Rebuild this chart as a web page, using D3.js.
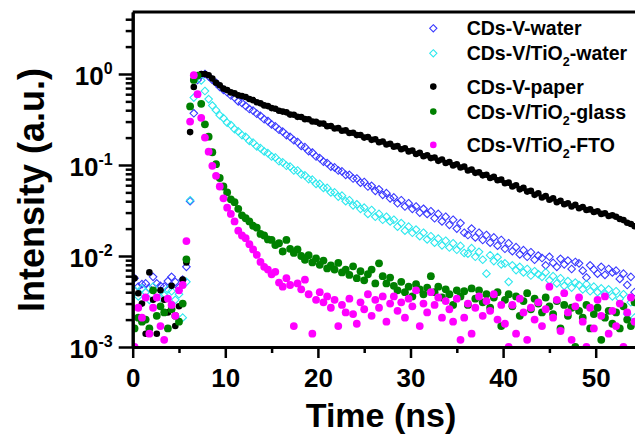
<!DOCTYPE html>
<html>
<head>
<meta charset="utf-8">
<script src="https://cdn.jsdelivr.net/npm/d3@7"></script>
<style>
  body { margin: 0; background: #fff; }
  svg { display: block; font-family: "Liberation Sans", Arial, sans-serif; font-weight: bold; }
</style>
</head>
<body>
<div class="canvas"></div>
<script>
// TCSPC channels (ns)
const timeNs = [
  0.2, 0.6, 1.0, 1.4, 1.8, 2.2, 2.6, 3.0, 3.4, 3.8,
  4.2, 4.6, 5.0, 5.4, 5.8, 6.2, 6.6, 7.0, 7.4, 7.8,
  8.2, 8.6, 9.0, 9.4, 9.8, 10.2, 10.6, 11.0, 11.4, 11.8,
  12.2, 12.6, 13.0, 13.4, 13.8, 14.2, 14.6, 15.0, 15.4, 15.8,
  16.2, 16.6, 17.0, 17.4, 17.8, 18.2, 18.6, 19.0, 19.4, 19.8,
  20.2, 20.6, 21.0, 21.4, 21.8, 22.2, 22.6, 23.0, 23.4, 23.8,
  24.2, 24.6, 25.0, 25.4, 25.8, 26.2, 26.6, 27.0, 27.4, 27.8,
  28.2, 28.6, 29.0, 29.4, 29.8, 30.2, 30.6, 31.0, 31.4, 31.8,
  32.2, 32.6, 33.0, 33.4, 33.8, 34.2, 34.6, 35.0, 35.4, 35.8,
  36.2, 36.6, 37.0, 37.4, 37.8, 38.2, 38.6, 39.0, 39.4, 39.8,
  40.2, 40.6, 41.0, 41.4, 41.8, 42.2, 42.6, 43.0, 43.4, 43.8,
  44.2, 44.6, 45.0, 45.4, 45.8, 46.2, 46.6, 47.0, 47.4, 47.8,
  48.2, 48.6, 49.0, 49.4, 49.8, 50.2, 50.6, 51.0, 51.4, 51.8,
  52.2, 52.6, 53.0, 53.4, 53.8, 54.2
]

// CDs-V-water
const vWater = [
  0.0057, 0.0046, 0.0049, 0.0050, 0.0044, 0.0059, 0.0050, 0.0047, 0.0046, 0.0053,
  0.0059, 0.0052, 0.0045, 0.0055, 0.0076, 0.040, 0.37, 0.86, 0.97, 1.0,
  0.94, 0.86, 0.80, 0.72, 0.67, 0.63, 0.58, 0.55, 0.50, 0.48,
  0.445, 0.412, 0.396, 0.366, 0.347, 0.318, 0.304, 0.279, 0.266, 0.244,
  0.233, 0.213, 0.204, 0.187, 0.179, 0.162, 0.157, 0.142, 0.137, 0.124,
  0.119, 0.109, 0.105, 0.096, 0.094, 0.087, 0.085, 0.078, 0.078, 0.071,
  0.071, 0.064, 0.065, 0.058, 0.059, 0.052, 0.054, 0.047, 0.049, 0.043,
  0.044, 0.038, 0.041, 0.035, 0.038, 0.033, 0.035, 0.030, 0.033, 0.029,
  0.031, 0.026, 0.029, 0.024, 0.027, 0.022, 0.025, 0.020, 0.023, 0.018,
  0.017, 0.020, 0.016, 0.018, 0.015, 0.017, 0.014, 0.016, 0.013, 0.015,
  0.0120, 0.0138, 0.0113, 0.0125, 0.0104, 0.0116, 0.0098, 0.0110, 0.0091, 0.0101,
  0.0095, 0.0079, 0.0098, 0.0084, 0.0076, 0.0093, 0.0081, 0.0089, 0.0072, 0.0086,
  0.0083, 0.0069, 0.0058, 0.0079, 0.0071, 0.0064, 0.0076, 0.0062, 0.0072, 0.0066,
  0.0069, 0.0056, 0.0064, 0.0048, 0.0059, 0.0040
]

// CDs-V/TiO2-water
const tioWater = [
  0.0042, 0.0036, 0.0044, 0.0040, 0.0033, 0.0046, 0.0039, 0.0035, 0.0037, 0.0043,
  0.0041, 0.0033, 0.0038, 0.0021, 0.0052, 0.041, 0.55, 0.93, 0.85, 0.65,
  0.53, 0.45, 0.40, 0.352, 0.327, 0.292, 0.275, 0.248, 0.234, 0.213,
  0.204, 0.184, 0.176, 0.160, 0.153, 0.141, 0.135, 0.124, 0.121, 0.110,
  0.107, 0.098, 0.096, 0.087, 0.087, 0.079, 0.077, 0.070, 0.069, 0.062,
  0.062, 0.056, 0.056, 0.050, 0.050, 0.045, 0.046, 0.040, 0.041, 0.036,
  0.037, 0.033, 0.034, 0.029, 0.032, 0.027, 0.029, 0.025, 0.027, 0.024,
  0.025, 0.021, 0.023, 0.019, 0.021, 0.018, 0.0195, 0.0165, 0.018, 0.0152,
  0.0165, 0.0140, 0.0155, 0.0131, 0.0147, 0.0124, 0.0138, 0.0117, 0.0129, 0.0108,
  0.0106, 0.0122, 0.0098, 0.0111, 0.0091, 0.0064, 0.0102, 0.0088, 0.0097, 0.0081,
  0.0083, 0.0052, 0.0079, 0.0070, 0.0076, 0.0066, 0.0072, 0.0061, 0.0068, 0.0063,
  0.0059, 0.0066, 0.0054, 0.0060, 0.0050, 0.0057, 0.0047, 0.0053, 0.0045, 0.0051,
  0.0048, 0.0043, 0.0049, 0.0041, 0.0046, 0.0040, 0.0044, 0.0038, 0.0043, 0.0036,
  0.0041, 0.0034, 0.0038, 0.0023, 0.0031, 0.0021
]

// CDs-V-paper
const vPaper = [
  0.0057, 0.0039, 0.0030, 0.0014, 0.0066, 0.0033, 0.0014, 0.0042, 0.0033, 0.0024,
  0.0047, 0.0017, 0.0028, 0.0055, 0.0085, 0.23, 0.72, 0.96, 1.0, 1.0,
  0.97, 0.89, 0.80, 0.75, 0.69, 0.665, 0.628, 0.612, 0.585, 0.572,
  0.559, 0.531, 0.516, 0.490, 0.476, 0.452, 0.444, 0.422, 0.415, 0.395,
  0.386, 0.379, 0.358, 0.357, 0.338, 0.337, 0.319, 0.318, 0.301, 0.299,
  0.285, 0.285, 0.267, 0.268, 0.252, 0.254, 0.238, 0.240, 0.225, 0.226,
  0.213, 0.214, 0.200, 0.203, 0.189, 0.192, 0.178, 0.181, 0.168, 0.171,
  0.159, 0.161, 0.149, 0.153, 0.141, 0.144, 0.132, 0.136, 0.125, 0.128,
  0.119, 0.121, 0.111, 0.115, 0.105, 0.108, 0.099, 0.102, 0.094, 0.096,
  0.087, 0.089, 0.082, 0.083, 0.077, 0.078, 0.072, 0.074, 0.068, 0.069,
  0.063, 0.064, 0.058, 0.060, 0.054, 0.056, 0.051, 0.052, 0.047, 0.049,
  0.044, 0.0455, 0.0415, 0.043, 0.039, 0.0405, 0.037, 0.038, 0.035, 0.0365,
  0.0335, 0.0345, 0.032, 0.0325, 0.0305, 0.031, 0.029, 0.0295, 0.0275, 0.028,
  0.027, 0.0255, 0.0248, 0.0232, 0.0225, 0.0212
]

// CDs-V/TiO2-glass
const tioGlass = [
  0.0016, 0.0021, 0.0019, 0.0020, 0.0016, 0.0042, 0.0022, 0.0028, 0.0024, 0.0016,
  0.0026, 0.0022, 0.0019, 0.0030, 0.0092, 0.44, 0.86, 0.96, 0.47, 0.28,
  0.205, 0.138, 0.102, 0.072, 0.058, 0.050, 0.042, 0.039, 0.033, 0.028,
  0.026, 0.024, 0.0215, 0.0205, 0.0175, 0.0168, 0.0152, 0.0150, 0.0132, 0.0138,
  0.0112, 0.0150, 0.0120, 0.0108, 0.0118, 0.0100, 0.0091, 0.0102, 0.0085, 0.0094,
  0.0080, 0.0089, 0.0073, 0.0079, 0.0071, 0.0084, 0.0066, 0.0071, 0.0062, 0.0077,
  0.0057, 0.0068, 0.0054, 0.0063, 0.0071, 0.0050, 0.0083, 0.0060, 0.0050, 0.0058,
  0.0047, 0.0042, 0.0052, 0.0040, 0.0046, 0.0036, 0.0049, 0.0043, 0.0038, 0.0045,
  0.0060, 0.0040, 0.0046, 0.0035, 0.0043, 0.0038, 0.0029, 0.0042, 0.0036, 0.0041,
  0.0029, 0.0044, 0.0034, 0.0042, 0.0031, 0.0038, 0.0027, 0.0035, 0.0040, 0.0017,
  0.0033, 0.0038, 0.0028, 0.0036, 0.0022, 0.0032, 0.0039, 0.0026, 0.0034, 0.0030,
  0.0024, 0.0035, 0.0028, 0.0023, 0.0032, 0.0016, 0.0029, 0.0022, 0.0027, 0.0010,
  0.0025, 0.0021, 0.0029, 0.0016, 0.0023, 0.0027, 0.0012, 0.0021, 0.0025, 0.0018,
  0.0024, 0.0016, 0.0028, 0.0020, 0.0017, 0.0031
]

// CDs-V/TiO2-FTO
const tioFto = [
  0.0010, 0.0027, 0.0021, 0.0035, 0.0014, 0.0027, 0.0035, 0.0017, 0.0012, 0.0034,
  0.0029, 0.0022, 0.0042, 0.0048, 0.0146, 0.30, 0.97, 0.60, 0.33, 0.20,
  0.140, 0.098, 0.076, 0.058, 0.043, 0.034, 0.029, 0.024, 0.019, 0.0168,
  0.0157, 0.0135, 0.0118, 0.0103, 0.0086, 0.0076, 0.0071, 0.0063, 0.0067, 0.0051,
  0.0046, 0.0057, 0.0048, 0.0017, 0.0050, 0.0043, 0.0055, 0.0038, 0.0014, 0.0033,
  0.0040, 0.0031, 0.0036, 0.0027, 0.0033, 0.0017, 0.0029, 0.0024, 0.0034, 0.0023,
  0.0018, 0.0031, 0.0026, 0.0038, 0.0022, 0.0033, 0.0027, 0.0036, 0.0019, 0.0030,
  0.0036, 0.0025, 0.0031, 0.0021, 0.0034, 0.0028, 0.0042, 0.0017, 0.0030, 0.0024,
  0.0040, 0.0029, 0.0035, 0.0021, 0.0032, 0.0026, 0.0019, 0.0034, 0.0012, 0.0021,
  0.0030, 0.0014, 0.0027, 0.0036, 0.0022, 0.0032, 0.0025, 0.0038, 0.0020, 0.0029,
  0.0018, 0.0010, 0.0029, 0.0014, 0.0034, 0.0024, 0.0012, 0.0027, 0.0020, 0.0031,
  0.0017, 0.0026, 0.0046, 0.0021, 0.0033, 0.0015, 0.0039, 0.0024, 0.0012, 0.0028,
  0.0035, 0.0019, 0.0010, 0.0027, 0.0016, 0.0033, 0.0022, 0.0036, 0.0014, 0.0025,
  0.0017, 0.0030, 0.0010, 0.0024, 0.0035, 0.0019
]

const seriesNames = ['CDs-V-water', 'CDs-V/TiO2-water', 'CDs-V-paper', 'CDs-V/TiO2-glass', 'CDs-V/TiO2-FTO']
const xTicks = [0, 10, 20, 30, 40, 50]
const xMinorTicks = [5, 15, 25, 35, 45]
const yTicks = [1e-3, 1e-2, 1e-1, 1]
const yTickExponents = ['-3', '-2', '-1', '0']

const width = 635, height = 435
const plot = { left: 132.7, right: 642, top: 12, bottom: 347 }

const svg = d3.select('.canvas')
    .append('svg')
    .attr('width', width)
    .attr('height', height)

const xScale = d3.scaleLinear().domain([0, 55]).range([plot.left, plot.right])
const yScale = d3.scaleLog().domain([1e-3, 4.8]).range([plot.bottom, plot.top])

svg.append('clipPath').attr('id', 'clip')
    .append('rect')
    .attr('x', plot.left).attr('y', plot.top)
    .attr('width', plot.right - plot.left).attr('height', plot.bottom - plot.top)

const series = [
    { values: vWater, shape: 'diamond', color: '#3a3aff', r: 3.8 },
    { values: tioWater, shape: 'diamond', color: '#2ee8ee', r: 3.8 },
    { values: vPaper, shape: 'circle', color: '#000', r: 3.3 },
    { values: tioGlass, shape: 'circle', color: '#008000', r: 3.9 },
    { values: tioFto, shape: 'circle', color: '#ff00ff', r: 3.9 }
]

const diamondPath = r => `M0,${-r}L${r},0L0,${r}L${-r},0Z`

const marks = svg.append('g').attr('clip-path', 'url(#clip)')

series.forEach(s => {
    const pts = timeNs.map((t, i) => ({ t, v: s.values[i] })).filter(d => d.v != null && d.v > 0)
    const g = marks.append('g')
    if (s.shape === 'diamond') {
        g.selectAll('path').data(pts).enter().append('path')
            .attr('d', diamondPath(s.r))
            .attr('transform', d => `translate(${xScale(d.t)},${yScale(d.v)})`)
            .attr('fill', 'none')
            .attr('stroke', s.color)
            .attr('stroke-width', 1.1)
    } else {
        g.selectAll('circle').data(pts).enter().append('circle')
            .attr('cx', d => xScale(d.t))
            .attr('cy', d => yScale(d.v))
            .attr('r', s.r)
            .attr('fill', s.color)
    }
})

// axes
const styleAxis = g => {
    g.select('.domain').attr('stroke-width', 3)
    g.selectAll('.tick line').attr('stroke-width', 2.5)
}

const xAxisGroup = svg.append('g').attr('transform', `translate(0, ${plot.bottom})`)
xAxisGroup.call(d3.axisBottom(xScale).tickValues(xTicks).tickSize(11).tickSizeOuter(0).tickPadding(11).tickFormat(d3.format('d')))
    .call(styleAxis)
xAxisGroup.selectAll('text').attr('font-size', 26).attr('font-weight', 'bold').attr('fill', '#000')
    .attr('font-family', '"Liberation Sans", Arial, sans-serif')
svg.append('g').attr('transform', `translate(0, ${plot.bottom})`)
    .call(d3.axisBottom(xScale).tickValues(xMinorTicks).tickSize(6).tickSizeOuter(0).tickFormat(''))
    .call(styleAxis)

const yMinor = []
yTicks.forEach(p => { for (let k = 2; k <= 9; k++) if (p * k < 4.8) yMinor.push(p * k) })

svg.append('g').attr('transform', `translate(${plot.left}, 0)`)
    .call(d3.axisLeft(yScale).tickValues(yTicks).tickSize(14).tickSizeOuter(0).tickFormat(''))
    .call(styleAxis)
svg.append('g').attr('transform', `translate(${plot.left}, 0)`)
    .call(d3.axisLeft(yScale).tickValues(yMinor).tickSize(7).tickSizeOuter(0).tickFormat(''))
    .call(styleAxis)

// top frame
svg.append('line')
    .attr('x1', plot.left).attr('x2', plot.right)
    .attr('y1', plot.top).attr('y2', plot.top)
    .attr('stroke', '#000').attr('stroke-width', 3)

// y tick labels 10^n
const yLab = svg.selectAll('.ylab').data(yTicks).enter().append('text')
    .attr('class', 'ylab')
    .attr('x', plot.left - 20)
    .attr('y', d => yScale(d) + 11)
    .attr('text-anchor', 'end')
    .attr('font-size', 26)
yLab.append('tspan').text('10')
yLab.append('tspan').attr('font-size', 16).attr('dy', -11).text((d, i) => yTickExponents[i])

// axis titles
svg.append('text')
    .attr('x', 381).attr('y', 427)
    .attr('text-anchor', 'middle')
    .attr('font-size', 34)
    .text('Time (ns)')

svg.append('text')
    .attr('transform', 'translate(44, 190) rotate(-90)')
    .attr('text-anchor', 'middle')
    .attr('font-size', 36)
    .text('Intensity (a.u.)')

// legend
const legend = svg.append('g')
let rowY = 28.3
series.forEach((s, i) => {
    const name = seriesNames[i]
    if (s.shape === 'diamond') {
        legend.append('path').attr('d', diamondPath(3.6))
            .attr('transform', `translate(433.3, ${rowY})`)
            .attr('fill', 'none').attr('stroke', s.color).attr('stroke-width', 1.1)
    } else {
        legend.append('circle').attr('cx', 433.3).attr('cy', rowY).attr('r', 3.3).attr('fill', s.color)
    }
    const txt = legend.append('text').attr('x', 466.7).attr('y', rowY + 7).attr('font-size', 19.5)
    const parts = name.split('TiO2')
    if (parts.length > 1) {
        txt.append('tspan').text(parts[0] + 'TiO')
        txt.append('tspan').attr('font-size', 12.5).attr('dy', 6).text('2')
        txt.append('tspan').attr('dy', -6).text(parts[1])
    } else {
        txt.text(name)
    }
    rowY += parts.length > 1 ? 33.3 : 25
})
</script>
</body>
</html>
